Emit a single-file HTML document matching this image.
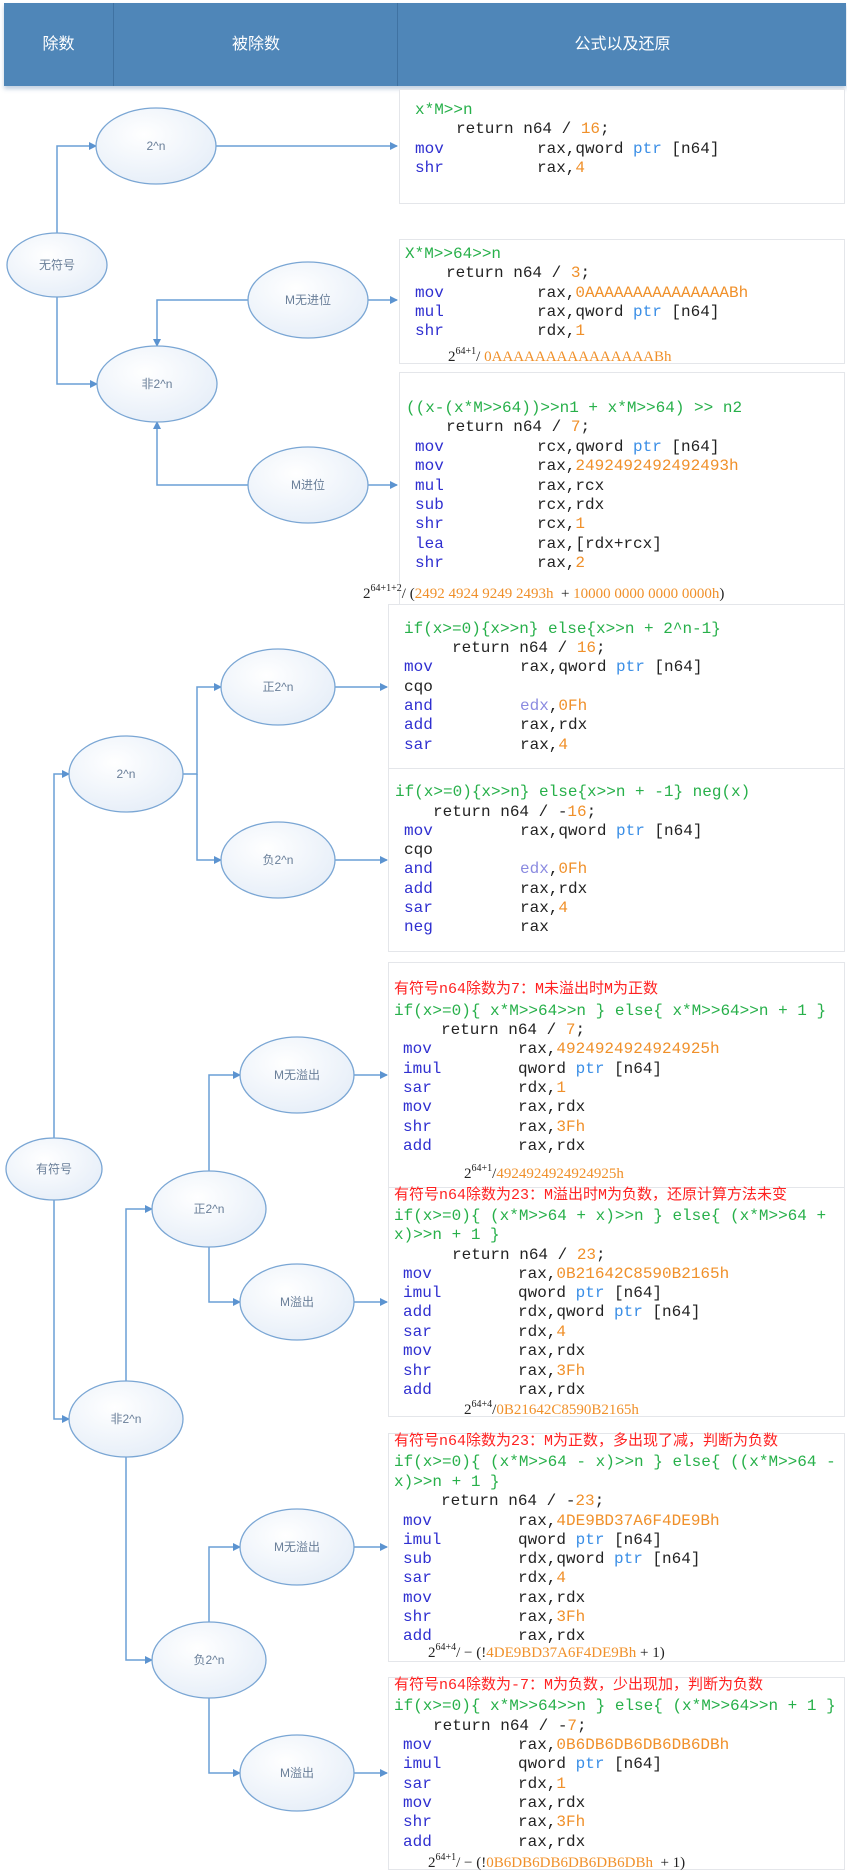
<!DOCTYPE html>
<html><head><meta charset="utf-8"><style>
body{margin:0;width:847px;height:1873px;background:#fff;position:relative;overflow:hidden;font-family:"Liberation Sans","Noto Sans CJK SC",sans-serif}
.hd{position:absolute;top:3px;left:4px;width:842px;height:83px;background:#4f86b8;box-shadow:0 3px 4px rgba(80,120,170,.35)}
.hd div{position:absolute;top:0;height:83px;line-height:83px;color:#fff;font-size:16px;text-align:center}
.bx{position:absolute;border:1px solid #e4e6ea;background:#fff}
.l{position:absolute;white-space:pre;font:16px "Liberation Mono","Noto Sans CJK SC",monospace;line-height:20px;height:20px;color:#222}
.g{color:#27b04a}.b{color:#2f2fd0}.p{color:#3a8ee6}.o{color:#f0902a}.e{color:#8a8ae0}
.r{color:#f22;font-size:15px}
.m{display:inline-block}
.f{position:absolute;white-space:pre;font:15px "Liberation Serif",serif;line-height:20px;color:#222}
.f sup{font-size:10px;vertical-align:7px}
.f .o{color:#f0902a}
svg{position:absolute;left:0;top:0}
</style></head><body>
<div class="hd"><div style="left:0;width:109px">除数</div><div style="left:109px;width:284px;border-left:1px solid #3f72a2">被除数</div><div style="left:393px;width:449px;border-left:1px solid #3f72a2">公式以及还原</div></div>

<div class="bx" style="left:399px;top:89px;width:444px;height:113px"></div>
<div class="bx" style="left:399px;top:239px;width:444px;height:123px"></div>
<div class="bx" style="left:399px;top:372px;width:444px;height:231px"></div>
<div class="bx" style="left:388px;top:604px;width:455px;height:164px"></div>
<div class="bx" style="left:388px;top:768px;width:455px;height:182px"></div>
<div class="bx" style="left:388px;top:962px;width:455px;height:225px"></div>
<div class="bx" style="left:388px;top:1187px;width:455px;height:228px"></div>
<div class="bx" style="left:388px;top:1433px;width:455px;height:227px"></div>
<div class="bx" style="left:388px;top:1677px;width:455px;height:191px"></div>

<svg width="847" height="1873">
<defs>
<marker id="a" markerWidth="8" markerHeight="8" refX="7" refY="4" orient="auto" markerUnits="userSpaceOnUse"><path d="M0,0 L8,4 L0,8 z" fill="#5b93d0"/></marker>
<radialGradient id="gr" cx="40%" cy="35%" r="70%"><stop offset="0" stop-color="#ffffff"/><stop offset="1" stop-color="#e6eef8"/></radialGradient>
</defs>
<g fill="none" stroke="#6a9fd6" stroke-width="1.5" marker-end="url(#a)">
<path d="M57 233V146H96"/><path d="M57 297V384H97"/><path d="M216 146H397"/>
<path d="M248 300H157V346"/><path d="M368 300H397"/>
<path d="M248 485H157V422"/><path d="M368 485H397"/>
<path d="M183 774H197V687H221"/><path d="M197 774V860H221"/>
<path d="M335 687H387"/><path d="M335 860H387"/>
<path d="M54 1138V774H69"/><path d="M54 1200V1419H69"/>
<path d="M126 1381V1209H152"/><path d="M126 1457V1660H152"/>
<path d="M209 1171V1075H240"/><path d="M209 1247V1302H240"/>
<path d="M209 1622V1547H240"/><path d="M209 1698V1773H240"/>
<path d="M354 1075H387"/><path d="M354 1302H387"/><path d="M354 1547H387"/><path d="M354 1773H387"/>
</g>
<g fill="url(#gr)" stroke="#7aa6d4" stroke-width="1.3">
<ellipse cx="156" cy="146" rx="60" ry="38"/><ellipse cx="57" cy="265" rx="50" ry="32"/>
<ellipse cx="308" cy="300" rx="60" ry="38"/><ellipse cx="157" cy="384" rx="60" ry="38"/>
<ellipse cx="308" cy="485" rx="60" ry="38"/>
<ellipse cx="278" cy="687" rx="57" ry="38"/><ellipse cx="278" cy="860" rx="57" ry="38"/>
<ellipse cx="126" cy="774" rx="57" ry="38"/><ellipse cx="54" cy="1169" rx="48" ry="31"/>
<ellipse cx="297" cy="1075" rx="57" ry="38"/><ellipse cx="209" cy="1209" rx="57" ry="38"/>
<ellipse cx="297" cy="1302" rx="57" ry="38"/><ellipse cx="126" cy="1419" rx="57" ry="38"/>
<ellipse cx="297" cy="1547" rx="57" ry="38"/><ellipse cx="209" cy="1660" rx="57" ry="38"/>
<ellipse cx="297" cy="1773" rx="57" ry="38"/>
</g>
<g fill="#6a7f99" font-size="12" text-anchor="middle" font-family="Liberation Sans,Noto Sans CJK SC,sans-serif">
<text x="156" y="150">2^n</text><text x="57" y="269">无符号</text><text x="308" y="304">M无进位</text>
<text x="157" y="388">非2^n</text><text x="308" y="489">M进位</text>
<text x="278" y="691">正2^n</text><text x="278" y="864">负2^n</text><text x="126" y="778">2^n</text>
<text x="54" y="1173">有符号</text><text x="297" y="1079">M无溢出</text><text x="209" y="1213">正2^n</text>
<text x="297" y="1306">M溢出</text><text x="126" y="1423">非2^n</text><text x="297" y="1551">M无溢出</text>
<text x="209" y="1664">负2^n</text><text x="297" y="1777">M溢出</text>
</g>
</svg>

<!-- box1 -->
<div class="l g" style="left:415px;top:100px">x*M&gt;&gt;n</div>
<div class="l" style="left:456px;top:119px">return n64 / <span class="o">16</span>;</div>
<div class="l" style="left:415px;top:139px"><span class="m b" style="width:122px">mov</span>rax,qword <span class="p">ptr</span> [n64]</div>
<div class="l" style="left:415px;top:158px"><span class="m b" style="width:122px">shr</span>rax,<span class="o">4</span></div>
<!-- box2 -->
<div class="l g" style="left:405px;top:244px">X*M&gt;&gt;64&gt;&gt;n</div>
<div class="l" style="left:446px;top:263px">return n64 / <span class="o">3</span>;</div>
<div class="l" style="left:415px;top:283px"><span class="m b" style="width:122px">mov</span>rax,<span class="o">0AAAAAAAAAAAAAAABh</span></div>
<div class="l" style="left:415px;top:302px"><span class="m b" style="width:122px">mul</span>rax,qword <span class="p">ptr</span> [n64]</div>
<div class="l" style="left:415px;top:321px"><span class="m b" style="width:122px">shr</span>rdx,<span class="o">1</span></div>
<div class="f" style="left:448px;top:342px">2<sup>64+1</sup>/ <span class="o">0AAAAAAAAAAAAAAABh</span></div>
<!-- box3 -->
<div class="l g" style="left:406px;top:398px">((x-(x*M&gt;&gt;64))&gt;&gt;n1 + x*M&gt;&gt;64) &gt;&gt; n2</div>
<div class="l" style="left:446px;top:417px">return n64 / <span class="o">7</span>;</div>
<div class="l" style="left:415px;top:437px"><span class="m b" style="width:122px">mov</span>rcx,qword <span class="p">ptr</span> [n64]</div>
<div class="l" style="left:415px;top:456px"><span class="m b" style="width:122px">mov</span>rax,<span class="o">2492492492492493h</span></div>
<div class="l" style="left:415px;top:476px"><span class="m b" style="width:122px">mul</span>rax,rcx</div>
<div class="l" style="left:415px;top:495px"><span class="m b" style="width:122px">sub</span>rcx,rdx</div>
<div class="l" style="left:415px;top:514px"><span class="m b" style="width:122px">shr</span>rcx,<span class="o">1</span></div>
<div class="l" style="left:415px;top:534px"><span class="m b" style="width:122px">lea</span>rax,[rdx+rcx]</div>
<div class="l" style="left:415px;top:553px"><span class="m b" style="width:122px">shr</span>rax,<span class="o">2</span></div>
<div class="f" style="left:363px;top:579px">2<sup>64+1+2</sup>/ (<span class="o">2492 4924 9249 2493h</span>  + <span class="o">10000 0000 0000 0000h</span>)</div>
<!-- box4 -->
<div class="l g" style="left:404px;top:619px">if(x&gt;=0){x&gt;&gt;n} else{x&gt;&gt;n + 2^n-1}</div>
<div class="l" style="left:452px;top:638px">return n64 / <span class="o">16</span>;</div>
<div class="l" style="left:404px;top:657px"><span class="m b" style="width:116px">mov</span>rax,qword <span class="p">ptr</span> [n64]</div>
<div class="l" style="left:404px;top:677px">cqo</div>
<div class="l" style="left:404px;top:696px"><span class="m b" style="width:116px">and</span><span class="e">edx</span>,<span class="o">0Fh</span></div>
<div class="l" style="left:404px;top:715px"><span class="m b" style="width:116px">add</span>rax,rdx</div>
<div class="l" style="left:404px;top:735px"><span class="m b" style="width:116px">sar</span>rax,<span class="o">4</span></div>
<!-- box5 -->
<div class="l g" style="left:395px;top:782px">if(x&gt;=0){x&gt;&gt;n} else{x&gt;&gt;n + -1} neg(x)</div>
<div class="l" style="left:433px;top:802px">return n64 / -<span class="o">16</span>;</div>
<div class="l" style="left:404px;top:821px"><span class="m b" style="width:116px">mov</span>rax,qword <span class="p">ptr</span> [n64]</div>
<div class="l" style="left:404px;top:840px">cqo</div>
<div class="l" style="left:404px;top:859px"><span class="m b" style="width:116px">and</span><span class="e">edx</span>,<span class="o">0Fh</span></div>
<div class="l" style="left:404px;top:879px"><span class="m b" style="width:116px">add</span>rax,rdx</div>
<div class="l" style="left:404px;top:898px"><span class="m b" style="width:116px">sar</span>rax,<span class="o">4</span></div>
<div class="l" style="left:404px;top:917px"><span class="m b" style="width:116px">neg</span>rax</div>
<!-- box6 -->
<div class="l r" style="left:394px;top:980px">有符号n64除数为7：M未溢出时M为正数</div>
<div class="l g" style="left:394px;top:1001px">if(x&gt;=0){ x*M&gt;&gt;64&gt;&gt;n } else{ x*M&gt;&gt;64&gt;&gt;n + 1 }</div>
<div class="l" style="left:441px;top:1020px">return n64 / <span class="o">7</span>;</div>
<div class="l" style="left:403px;top:1039px"><span class="m b" style="width:115px">mov</span>rax,<span class="o">4924924924924925h</span></div>
<div class="l" style="left:403px;top:1059px"><span class="m b" style="width:115px">imul</span>qword <span class="p">ptr</span> [n64]</div>
<div class="l" style="left:403px;top:1078px"><span class="m b" style="width:115px">sar</span>rdx,<span class="o">1</span></div>
<div class="l" style="left:403px;top:1097px"><span class="m b" style="width:115px">mov</span>rax,rdx</div>
<div class="l" style="left:403px;top:1117px"><span class="m b" style="width:115px">shr</span>rax,<span class="o">3Fh</span></div>
<div class="l" style="left:403px;top:1136px"><span class="m b" style="width:115px">add</span>rax,rdx</div>
<div class="f" style="left:464px;top:1159px">2<sup>64+1</sup>/<span class="o">4924924924924925h</span></div>
<!-- box7 -->
<div class="l r" style="left:394px;top:1186px">有符号n64除数为23：M溢出时M为负数，还原计算方法未变</div>
<div class="l g" style="left:394px;top:1206px">if(x&gt;=0){ (x*M&gt;&gt;64 + x)&gt;&gt;n } else{ (x*M&gt;&gt;64 +</div>
<div class="l g" style="left:394px;top:1225px">x)&gt;&gt;n + 1 }</div>
<div class="l" style="left:452px;top:1245px">return n64 / <span class="o">23</span>;</div>
<div class="l" style="left:403px;top:1264px"><span class="m b" style="width:115px">mov</span>rax,<span class="o">0B21642C8590B2165h</span></div>
<div class="l" style="left:403px;top:1283px"><span class="m b" style="width:115px">imul</span>qword <span class="p">ptr</span> [n64]</div>
<div class="l" style="left:403px;top:1302px"><span class="m b" style="width:115px">add</span>rdx,qword <span class="p">ptr</span> [n64]</div>
<div class="l" style="left:403px;top:1322px"><span class="m b" style="width:115px">sar</span>rdx,<span class="o">4</span></div>
<div class="l" style="left:403px;top:1341px"><span class="m b" style="width:115px">mov</span>rax,rdx</div>
<div class="l" style="left:403px;top:1361px"><span class="m b" style="width:115px">shr</span>rax,<span class="o">3Fh</span></div>
<div class="l" style="left:403px;top:1380px"><span class="m b" style="width:115px">add</span>rax,rdx</div>
<div class="f" style="left:464px;top:1395px">2<sup>64+4</sup>/<span class="o">0B21642C8590B2165h</span></div>
<!-- box8 -->
<div class="l r" style="left:394px;top:1432px">有符号n64除数为23：M为正数，多出现了减，判断为负数</div>
<div class="l g" style="left:394px;top:1452px">if(x&gt;=0){ (x*M&gt;&gt;64 - x)&gt;&gt;n } else{ ((x*M&gt;&gt;64 -</div>
<div class="l g" style="left:394px;top:1472px">x)&gt;&gt;n + 1 }</div>
<div class="l" style="left:441px;top:1491px">return n64 / -<span class="o">23</span>;</div>
<div class="l" style="left:403px;top:1511px"><span class="m b" style="width:115px">mov</span>rax,<span class="o">4DE9BD37A6F4DE9Bh</span></div>
<div class="l" style="left:403px;top:1530px"><span class="m b" style="width:115px">imul</span>qword <span class="p">ptr</span> [n64]</div>
<div class="l" style="left:403px;top:1549px"><span class="m b" style="width:115px">sub</span>rdx,qword <span class="p">ptr</span> [n64]</div>
<div class="l" style="left:403px;top:1568px"><span class="m b" style="width:115px">sar</span>rdx,<span class="o">4</span></div>
<div class="l" style="left:403px;top:1588px"><span class="m b" style="width:115px">mov</span>rax,rdx</div>
<div class="l" style="left:403px;top:1607px"><span class="m b" style="width:115px">shr</span>rax,<span class="o">3Fh</span></div>
<div class="l" style="left:403px;top:1626px"><span class="m b" style="width:115px">add</span>rax,rdx</div>
<div class="f" style="left:428px;top:1638px">2<sup>64+4</sup>/ − (!<span class="o">4DE9BD37A6F4DE9Bh</span> + 1)</div>
<!-- box9 -->
<div class="l r" style="left:394px;top:1676px">有符号n64除数为-7：M为负数，少出现加，判断为负数</div>
<div class="l g" style="left:394px;top:1696px">if(x&gt;=0){ x*M&gt;&gt;64&gt;&gt;n } else{ (x*M&gt;&gt;64&gt;&gt;n + 1 }</div>
<div class="l" style="left:433px;top:1716px">return n64 / -<span class="o">7</span>;</div>
<div class="l" style="left:403px;top:1735px"><span class="m b" style="width:115px">mov</span>rax,<span class="o">0B6DB6DB6DB6DB6DBh</span></div>
<div class="l" style="left:403px;top:1754px"><span class="m b" style="width:115px">imul</span>qword <span class="p">ptr</span> [n64]</div>
<div class="l" style="left:403px;top:1774px"><span class="m b" style="width:115px">sar</span>rdx,<span class="o">1</span></div>
<div class="l" style="left:403px;top:1793px"><span class="m b" style="width:115px">mov</span>rax,rdx</div>
<div class="l" style="left:403px;top:1812px"><span class="m b" style="width:115px">shr</span>rax,<span class="o">3Fh</span></div>
<div class="l" style="left:403px;top:1832px"><span class="m b" style="width:115px">add</span>rax,rdx</div>
<div class="f" style="left:428px;top:1848px">2<sup>64+1</sup>/ − (!<span class="o">0B6DB6DB6DB6DB6DBh</span>  + 1)</div>
</body></html>
